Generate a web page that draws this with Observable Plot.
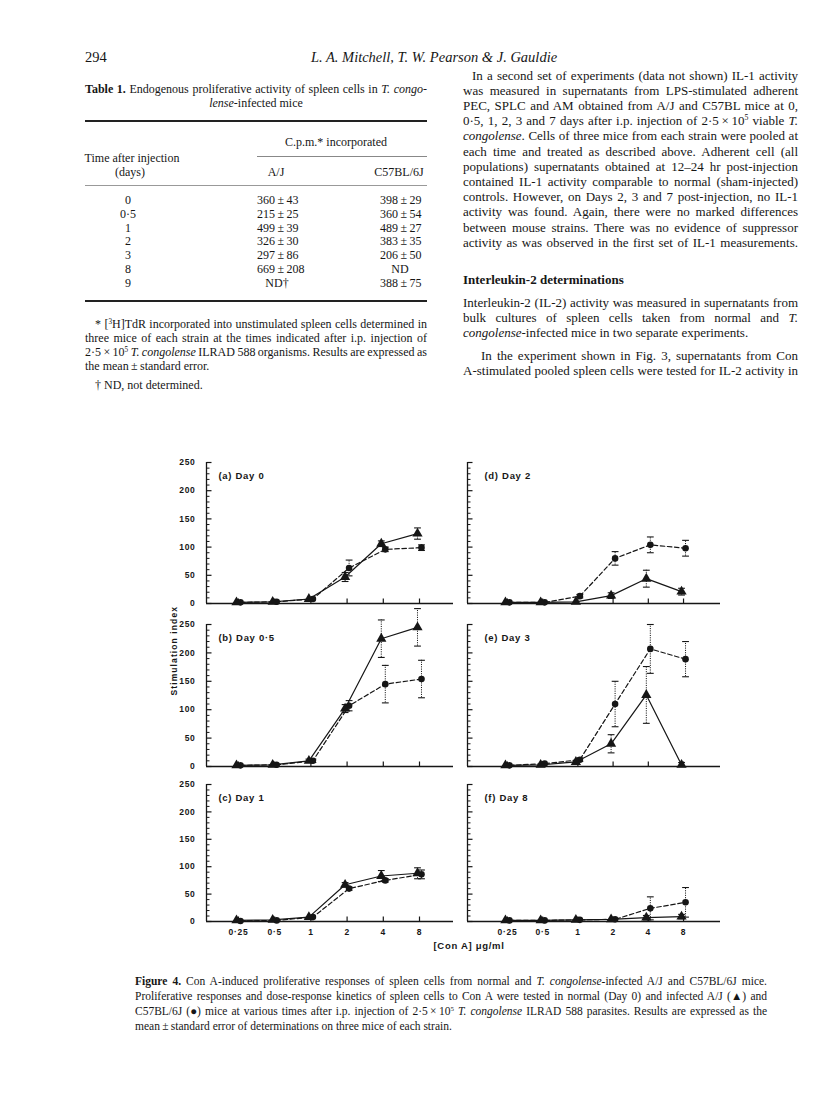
<!DOCTYPE html>
<html><head><meta charset="utf-8">
<script src="https://cdn.jsdelivr.net/npm/d3@7"></script>
<script src="https://cdn.jsdelivr.net/npm/@observablehq/plot@0.6"></script>
<style>
html,body{margin:0;padding:0;background:#fff;}
#page{position:relative;width:816px;height:1099px;overflow:hidden;background:#fff;color:#161616;font-family:"Liberation Serif","Times New Roman",serif;}
#page .t{position:absolute;white-space:nowrap;}
#page .rule{position:absolute;}
#page sup{font-size:0.6em;line-height:0;vertical-align:0.62em;}
</style></head><body><div id="page"></div>
<script>
// ---------------- DATA ----------------
const doses = [0.25, 0.5, 1, 2, 4, 8];
const doseLabels = ["0·25", "0·5", "1", "2", "4", "8"];
const panelLabels = ["(a) Day 0", "(b) Day 0·5", "(c) Day 1", "(d) Day 2", "(e) Day 3", "(f) Day 8"];
const yMajor = [0, 50, 100, 150, 200, 250];
const yMinor = [10, 20, 30, 40, 60, 70, 80, 90, 110, 120, 130, 140, 160, 170, 180, 190, 210, 220, 230, 240];
// A/J (triangles, solid line) mean and standard error, one row per panel (a..f)
const ajMean = [
  [2, 3, 8, 47, 106, 124],
  [2, 3, 10, 102, 225, 245],
  [2, 3, 8, 67, 83, 88],
  [2, 2, 3, 14, 44, 21],
  [2, 3, 8, 40, 126, 3],
  [2, 2, 3, 4, 7, 9]
];
const ajSE = [
  [1, 1, 2, 8, 5, 10],
  [1, 1, 3, 7, 33, 33],
  [1, 1, 2, 4, 10, 10],
  [1, 1, 1, 5, 15, 6],
  [1, 1, 2, 16, 50, 4],
  [1, 1, 1, 1, 4, 4]
];
// C57BL/6J (circles, dashed line)
const c57Mean = [
  [2, 3, 8, 63, 96, 99],
  [2, 3, 10, 107, 145, 154],
  [1, 2, 8, 60, 75, 86],
  [2, 2, 13, 80, 104, 98],
  [2, 5, 12, 110, 207, 189],
  [2, 2, 3, 4, 24, 35]
];
const c57SE = [
  [1, 1, 2, 14, 4, 5],
  [1, 1, 3, 9, 33, 33],
  [1, 1, 2, 3, 3, 8],
  [1, 1, 3, 12, 14, 14],
  [1, 1, 3, 40, 43, 31],
  [1, 1, 1, 1, 21, 27]
];
// Table 1
const tableDays = ["0", "0·5", "1", "2", "3", "8", "9"];
const tableAJ = ["360\u2009±\u200943", "215\u2009±\u200925", "499\u2009±\u200939", "326\u2009±\u200930", "297\u2009±\u200986", "669\u2009±\u2009208", "ND†"];
const tableC57 = ["398\u2009±\u200929", "360\u2009±\u200954", "489\u2009±\u200927", "383\u2009±\u200935", "206\u2009±\u200950", "ND", "388\u2009±\u200975"];

// ---------------- PAGE TEXT ----------------
const ink = "#161616";
const page = document.getElementById("page");

function txt(html, x, y, o = {}) {
  const size = o.size || 13;
  const d = document.createElement("div");
  d.className = "t";
  d.innerHTML = html;
  d.style.fontSize = size + "px";
  d.style.lineHeight = size + "px";
  d.style.top = (y - size / 2) + "px";
  d.style.left = x + "px";
  if (o.bold) d.style.fontWeight = "bold";
  if (o.italic) d.style.fontStyle = "italic";
  page.appendChild(d);
  const nat = d.getBoundingClientRect().width;
  if (o.justify) {
    const spaces = (d.textContent.match(/ /g) || []).length;
    if (spaces) d.style.wordSpacing = ((o.justify - nat) / spaces) + "px";
  }
  if (o.center) d.style.left = (x - nat / 2) + "px";
  if (o.right) d.style.left = (x - nat) + "px";
  return d;
}
function rule(x1, x2, y, h, color) {
  const d = document.createElement("div");
  d.className = "rule";
  d.style.cssText += `left:${x1}px;top:${y - h / 2}px;width:${x2 - x1}px;height:${h}px;background:${color};`;
  page.appendChild(d);
}

// header
txt("294", 85, 57, {size: 14.5});
txt("L. A. Mitchell, T. W. Pearson &amp; J. Gauldie", 434, 57, {size: 14.5, italic: true, center: true});

// left column: table
const LX = 85, LW = 342, TS = 12;
txt("<b>Table 1.</b> Endogenous proliferative activity of spleen cells in <i>T. congo-</i>", LX, 89, {size: TS, justify: LW});
txt("<i>lense</i>-infected mice", LX + LW / 2, 103, {size: TS, center: true});
rule(LX, LX + LW, 121, 1.6, "#222");
txt("C.p.m.* incorporated", 336, 142, {size: TS, center: true});
rule(257, LX + LW, 156, 0.9, "#888");
txt("Time after injection", 132, 158, {size: TS, center: true});
txt("(days)", 130, 172, {size: TS, center: true});
txt("A/J", 276, 172, {size: TS, center: true});
txt("C57BL/6J", 399, 172, {size: TS, center: true});
rule(LX, LX + LW, 185, 0.9, "#999");
tableDays.forEach((d, i) => {
  const y = 200 + i * 13.8;
  txt(d, 128, y, {size: TS, center: true});
  if (tableAJ[i].startsWith("ND")) txt(tableAJ[i], 277, y, {size: TS, center: true});
  else txt(tableAJ[i], 257, y, {size: TS});
  if (tableC57[i].startsWith("ND")) txt(tableC57[i], 400, y, {size: TS, center: true});
  else txt(tableC57[i], 380, y, {size: TS});
});
rule(LX, LX + LW, 301, 1.6, "#222");
txt("* [<sup>3</sup>H]TdR incorporated into unstimulated spleen cells determined in", LX + 10, 324, {size: TS, justify: LW - 10});
txt("three mice of each strain at the times indicated after i.p. injection of", LX, 338, {size: TS, justify: LW});
txt("2·5\u2009×\u200910<sup>5</sup> <i>T. congolense</i> ILRAD 588 organisms. Results are expressed as", LX, 352, {size: TS, justify: LW});
txt("the mean\u2009±\u2009standard error.", LX, 366, {size: TS});
txt("† ND, not determined.", LX + 10, 385, {size: TS});

// right column
const RX = 463, RW = 335;
const para1 = [
  "In a second set of experiments (data not shown) IL-1 activity",
  "was measured in supernatants from LPS-stimulated adherent",
  "PEC, SPLC and AM obtained from A/J and C57BL mice at 0,",
  "0·5, 1, 2, 3 and 7 days after i.p. injection of 2·5\u2009×\u200910<sup>5</sup> viable <i>T.</i>",
  "<i>congolense</i>. Cells of three mice from each strain were pooled at",
  "each time and treated as described above. Adherent cell (all",
  "populations) supernatants obtained at 12–24 hr post-injection",
  "contained IL-1 activity comparable to normal (sham-injected)",
  "controls. However, on Days 2, 3 and 7 post-injection, no IL-1",
  "activity was found. Again, there were no marked differences",
  "between mouse strains. There was no evidence of suppressor",
  "activity as was observed in the first set of IL-1 measurements."
];
para1.forEach((l, i) => {
  const ind = i === 0 ? 9 : 0;
  txt(l, RX + ind, 75 + i * 15.2, {size: 13, justify: RW - ind});
});
txt("Interleukin-2 determinations", RX, 279, {size: 13, bold: true});
const para2 = [
  "Interleukin-2 (IL-2) activity was measured in supernatants from",
  "bulk cultures of spleen cells taken from normal and <i>T.</i>",
  "<i>congolense</i>-infected mice in two separate experiments."
];
para2.forEach((l, i) => txt(l, RX, 302 + i * 15.2, {size: 13, justify: i < 2 ? RW : 0}));
txt("In the experiment shown in Fig. 3, supernatants from Con", RX + 18, 355, {size: 13, justify: RW - 18});
txt("A-stimulated pooled spleen cells were tested for IL-2 activity in", RX, 370, {size: 13, justify: RW});

// figure caption
const CX = 135, CW = 632;
txt("<b>Figure 4.</b> Con A-induced proliferative responses of spleen cells from normal and <i>T. congolense</i>-infected A/J and C57BL/6J mice.", CX, 982, {size: 11.5, justify: CW});
txt("Proliferative responses and dose-response kinetics of spleen cells to Con A were tested in normal (Day 0) and infected A/J (▲) and", CX, 997, {size: 11.5, justify: CW});
txt("C57BL/6J (●) mice at various times after i.p. injection of 2·5\u2009×\u200910<sup>5</sup> <i>T. congolense</i> ILRAD 588 parasites. Results are expressed as the", CX, 1012, {size: 11.5, justify: CW});
txt("mean\u2009±\u2009standard error of determinations on three mice of each strain.", CX, 1027, {size: 11.5});

// ---------------- FIGURE ----------------
const hTick = {draw(ctx, size) { const l = Math.sqrt(size / Math.PI); ctx.moveTo(0, 0); ctx.lineTo(l, 0); }};
const vTick = {draw(ctx, size) { const l = Math.sqrt(size / Math.PI); ctx.moveTo(0, 0); ctx.lineTo(0, -l); }};
const cap = {draw(ctx, size) { const l = Math.sqrt(size / Math.PI); ctx.moveTo(-l, 0); ctx.lineTo(l, 0); }};

const rows = [{top: 462, bottom: 603}, {top: 624, bottom: 766}, {top: 784, bottom: 921}];
const cols = [
  {left: 206, right: 453, ml: 56, domain: [0.1355, 15.34], ldx: 12},
  {left: 467, right: 720, ml: 8, domain: [0.1139, 16.56], ldx: 17}
];

function seriesMarks(data, dx, solid, symbol, r) {
  const err = data.filter(d => d.se >= 3);
  return [
    Plot.ruleX(err, {x: "dose", y1: d => Math.max(0, d.m - d.se), y2: d => d.m + d.se, dx, stroke: ink, strokeWidth: 1, strokeDasharray: "1.1,1.2"}),
    Plot.dot(err, {x: "dose", y: d => d.m + d.se, dx, symbol: cap, r: 3.4, stroke: ink, fill: "none", strokeWidth: 1.1}),
    Plot.dot(err.filter(d => d.m - d.se > 0), {x: "dose", y: d => d.m - d.se, dx, symbol: cap, r: 3.4, stroke: ink, fill: "none", strokeWidth: 1.1}),
    Plot.line(data, {x: "dose", y: "m", dx, stroke: ink, strokeWidth: 1.2, strokeDasharray: solid ? null : "4.5,2.6"}),
    Plot.dot(data, {x: "dose", y: "m", dx, symbol, r, fill: ink, stroke: "none"})
  ];
}

const sans = "'Liberation Sans', Arial, sans-serif";
for (let i = 0; i < 6; i++) {
  const c = cols[i < 3 ? 0 : 1];
  const rw = rows[i % 3];
  const isLeft = i < 3, isBottom = i % 3 === 2;
  const mt = 24, mb = isBottom ? 30 : 4, mr = 8;
  const width = c.ml + (c.right - c.left) + mr;
  const height = mt + (rw.bottom - rw.top) + mb;
  const aj = doses.map((d, j) => ({dose: d, m: ajMean[i][j], se: ajSE[i][j]}));
  const c57 = doses.map((d, j) => ({dose: d, m: c57Mean[i][j], se: c57SE[i][j]}));
  const marks = [
    Plot.ruleY([0], {stroke: ink, strokeWidth: 1.3}),
    Plot.ruleX([c.domain[0]], {stroke: ink, strokeWidth: 1.3}),
    Plot.dot(yMinor, {y: d => d, frameAnchor: "left", symbol: hTick, r: 3, stroke: ink, fill: "none", strokeWidth: 1}),
    Plot.dot(yMajor, {y: d => d, frameAnchor: "left", symbol: hTick, r: 5, stroke: ink, fill: "none", strokeWidth: 1.2}),
    Plot.dot(doses, {x: d => d, frameAnchor: "bottom", symbol: vTick, r: 5, stroke: ink, fill: "none", strokeWidth: 1.2}),
    ...seriesMarks(c57, 2, false, "circle", 3.3),
    ...seriesMarks(aj, -2, true, "triangle", 3.8),
    Plot.text([panelLabels[i]], {frameAnchor: "top-left", dx: c.ldx, dy: 13, text: d => d, textAnchor: "start", lineAnchor: "middle", fontSize: 9.5, fontWeight: "bold"})
  ];
  if (isLeft) marks.push(Plot.text(yMajor, {y: d => d, frameAnchor: "left", dx: -11, textAnchor: "end", text: d => String(d), fontSize: 8.5, fontWeight: "bold"}));
  if (isBottom) marks.push(Plot.text(doses, {x: d => d, frameAnchor: "bottom", dy: 11, text: (d, j) => doseLabels[j], lineAnchor: "middle", fontSize: 8.5, fontWeight: "bold"}));
  if (i === 1) marks.push(Plot.text(["Stimulation index"], {frameAnchor: "left", dx: -32, rotate: -90, text: d => d, fontSize: 8.5, fontWeight: "bold"}));
  if (i === 2) marks.push(Plot.text(["[Con A] μg/ml"], {frameAnchor: "bottom-right", dx: -20, dy: 24, text: d => d, textAnchor: "start", lineAnchor: "middle", fontSize: 9.5, fontWeight: "bold"}));
  const svg = Plot.plot({
    width, height,
    marginLeft: c.ml, marginRight: mr, marginTop: mt, marginBottom: mb,
    x: {type: "log", base: 2, domain: c.domain, axis: null},
    y: {domain: [0, 250], axis: null},
    style: {
      position: "absolute", left: (c.left - c.ml) + "px", top: (rw.top - mt) + "px",
      background: "transparent", overflow: "visible", color: ink,
      fontFamily: sans, fontSize: "9px", letterSpacing: "0.7px"
    },
    marks
  });
  if (i === 1) d3.select(svg).selectAll("text").filter(function() { return this.textContent === "Stimulation index"; }).attr("letter-spacing", "1.1px");
  page.appendChild(svg);
}
</script></body></html>
